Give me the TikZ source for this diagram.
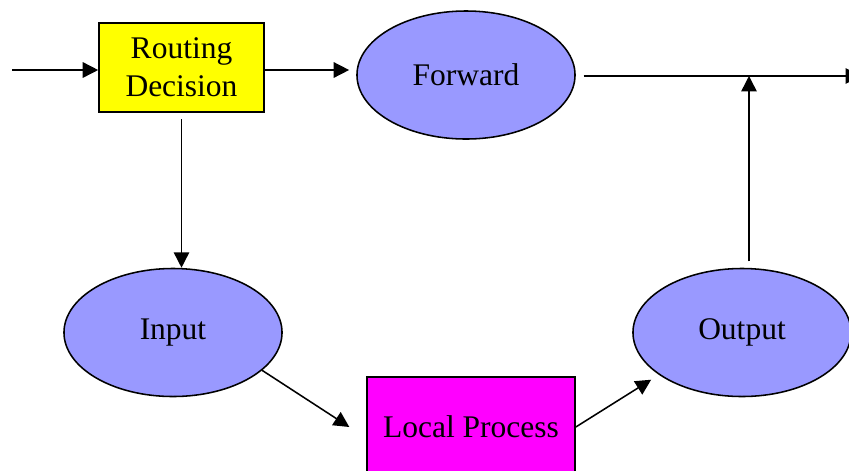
\documentclass[tikz,border=0pt]{standalone}
\usepackage{fontspec}
\setmainfont{Liberation Serif}
\usepackage{tikz}
\usetikzlibrary{positioning, shapes.geometric, arrows.meta}

\definecolor{hookblue}{HTML}{9999FF}
\definecolor{procpink}{HTML}{FF00FF}
\definecolor{routeyellow}{HTML}{FFFF00}

\begin{document}
\begin{tikzpicture}[x=0.025cm,y=-0.025cm,line width=1.1pt,
        >={Triangle[length=11pt,width=11pt]},
        font=\fontsize{22.4}{26.8}\selectfont,
        hook/.style={ellipse,draw=black,fill=hookblue,minimum width=5.45cm,minimum height=3.2cm,inner sep=0pt},
        decide/.style={rectangle,draw=black,fill=routeyellow,minimum width=4.125cm,minimum height=2.225cm,inner sep=0pt,align=center},
        proc/.style={rectangle,draw=black,fill=procpink,minimum width=5.2cm,minimum height=2.5cm,inner sep=0pt}]

        \clip (0,0) rectangle (849,470);

        \node[decide] (route) at (181.5,67.5) {Routing\\Decision};
        \node[hook] (fwd)  at (466,75)    {Forward};
        \node[hook] (inp)  at (173,332.5) {Input};
        \node[hook] (outp) at (742,332.5) {Output};
        \node[proc] (loc)  at (471,427)   {Local Process};

        \coordinate (pktin)  at (12,70);
        \coordinate (pktout) at (861,76);
        \coordinate (join)   at (749,76);

        \path[->]
                  (pktin)       edge [] node []{} (route.west |- pktin)
                  (route.east |- pktin) edge [shorten >=5pt] node []{} (fwd.west |- pktin)
                  (fwd.east |- pktout)  edge [shorten <=5.5pt] node []{} (pktout)
                  (join |- outp.north)  edge [shorten <=4.5pt] node []{} (join)

                  (route.south) edge [shorten <=4.5pt] node []{} (route.south |- inp.north)

                  (inp.-23)     edge [] node []{} ([xshift=-12pt]loc.west)
                  (loc.east)    edge [shorten >=6.5pt] node []{} (outp.207);
\end{tikzpicture}
\end{document}
